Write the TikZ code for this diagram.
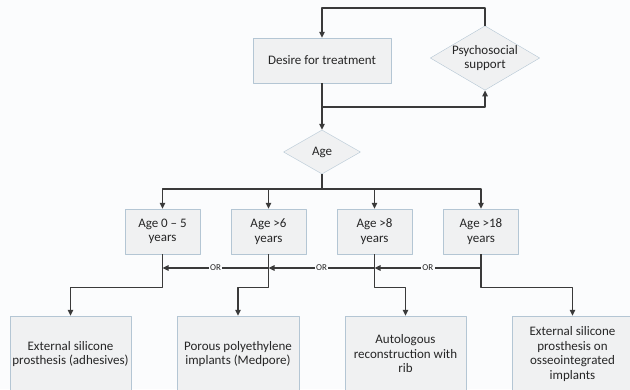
\documentclass[tikz,border=0pt]{standalone}
\usepackage{fontspec}
\setmainfont{Carlito}
\usetikzlibrary{shapes.geometric,arrows.meta}
\definecolor{linegray}{HTML}{3A3A3A}
\definecolor{boxedge}{HTML}{B4C6D4}
\definecolor{boxfill}{HTML}{F0F1F2}
\definecolor{txtgray}{HTML}{262626}
\definecolor{bgcol}{HTML}{FBFCFD}
\begin{document}
\begin{tikzpicture}[x=1pt, y=-1pt, font=\fontsize{13}{14.5}\selectfont, line join=round,
	box/.style={draw=boxedge, fill=boxfill, text=txtgray, align=center, inner sep=2pt},
	dia/.style={diamond, draw=boxedge, fill=boxfill, text=txtgray, align=center, inner sep=0pt},
	lin/.style={draw=linegray, line width=1.3pt},
	arr/.style={lin, -{Triangle[length=6pt,width=5.5pt]}},
	orlbl/.style={fill=bgcol, text=txtgray, font=\fontsize{9}{10}\selectfont, inner sep=1.5pt}]
	\path[use as bounding box, fill=bgcol] (0,0) rectangle (630,389);
	\clip (0,0) rectangle (630,389);
	% top part
	\node[box, minimum width=138pt, minimum height=45pt] (desire) at (322,60.5) {Desire for treatment};
	\node[dia, minimum width=106pt, minimum height=62pt, shape aspect=1.7] (psycho) at (485,58) {Psychosocial\\support};
	\node[dia, minimum width=77pt, minimum height=44pt, shape aspect=1.75] (age) at (322,152) {Age};
	\coordinate (loop) at (322,8);
	\coordinate (split) at (322,107);
	\coordinate (hub) at (322,189);
	\draw[arr] (psycho.north) |- (loop) -- (desire.north);
	\draw[lin] (desire.south) -- (split);
	\draw[arr] (split) -| (psycho.south);
	\draw[arr] (split) -- (age.north);
	\draw[lin] (age.south) -- (hub);
	% age groups
	\foreach \n/\x/\t in {1/162.5/{Age 0 – 5\\years}, 2/268.5/{Age >6\\years}, 3/374.5/{Age >8\\years}, 4/481/{Age >18\\years}} {
		\node[box, minimum width=75pt, minimum height=45pt] (age\n) at (\x,231.5) {\t};
		\coordinate (or\n) at (\x,268);
		\draw[arr] (hub) -| (age\n.north);
	}
	% treatments
	\node[box, minimum width=121pt, minimum height=76pt] (res1) at (70.5,354) {External silicone\\prosthesis (adhesives)};
	\node[box, minimum width=122pt, minimum height=76pt] (res2) at (238,354) {Porous polyethylene\\implants (Medpore)};
	\node[box, minimum width=121pt, minimum height=76pt] (res3) at (405.5,354) {Autologous\\reconstruction with\\rib};
	\node[box, minimum width=121pt, minimum height=76pt] (res4) at (572.5,354) {External silicone\\prosthesis on\\osseointegrated\\implants};
	\draw[arr] (age4.south) |- node[orlbl, pos=0.75]{OR} (or3);
	\draw[arr] (or3) -- node[orlbl]{OR} (or2);
	\draw[arr] (or2) -- node[orlbl]{OR} (or1);
	\foreach \n in {1,...,4} \draw[arr] (age\n.south) -- ++(0,33) -| (res\n.north);
\end{tikzpicture}
\end{document}
